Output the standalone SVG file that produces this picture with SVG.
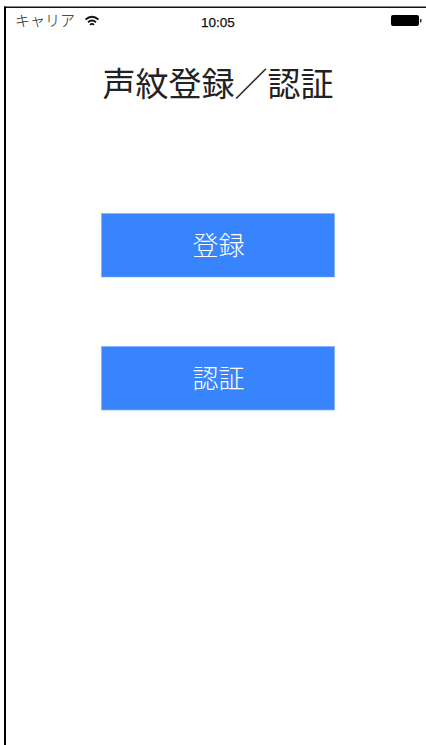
<svg xmlns="http://www.w3.org/2000/svg" width="426" height="745" viewBox="0 0 426 745">
<style>
.c{font-family:"Noto Sans CJK JP","Liberation Sans",sans-serif}
.btn{fill:#3784fd;stroke:#7fb0fb;stroke-width:.6}
.bt{font-size:26px;font-weight:300;fill:#fff;text-anchor:middle}
</style>
<rect width="426" height="745" fill="#fff"/>
<rect x="4" y="6.500" width="422" height="1.500" fill="#111"/>
<rect x="4" y="6.500" width="2" height="738.500" fill="#000"/>
<g id="status-bar">
<text class="c" x="15" y="26" font-size="15" font-weight="300" fill="#222">キャリア</text>
<g id="wifi" fill="none" stroke="#111">
<path d="M85.500 19.500Q92 14 98.500 19.500" stroke-width="1.800"/>
<path d="M88 22.200Q92 18.800 96 22.200" stroke-width="1.800"/>
<path d="M90 24.800Q92 23 94 24.800" stroke-width="1.800"/>
</g>
<text x="218" y="27" font-family="Liberation Sans,sans-serif" font-size="13.500" fill="#111" stroke="#111" stroke-width=".25" text-anchor="middle">10:05</text>
<rect x="391" y="15" width="28" height="11" rx="2" fill="#000"/>
<rect x="420" y="19" width="1.500" height="3.500" fill="#333"/>
</g>
<text id="title" class="c" x="218" y="96" font-size="33" fill="#222" text-anchor="middle">声紋登録／認証</text>
<g id="register">
<rect class="btn" x="101.500" y="213.500" width="233" height="63.500"/>
<text class="c bt" x="218.500" y="255">登録</text>
</g>
<g id="authenticate">
<rect class="btn" x="101.500" y="346.500" width="233" height="63.500"/>
<text class="c bt" x="218.500" y="388">認証</text>
</g>
</svg>
